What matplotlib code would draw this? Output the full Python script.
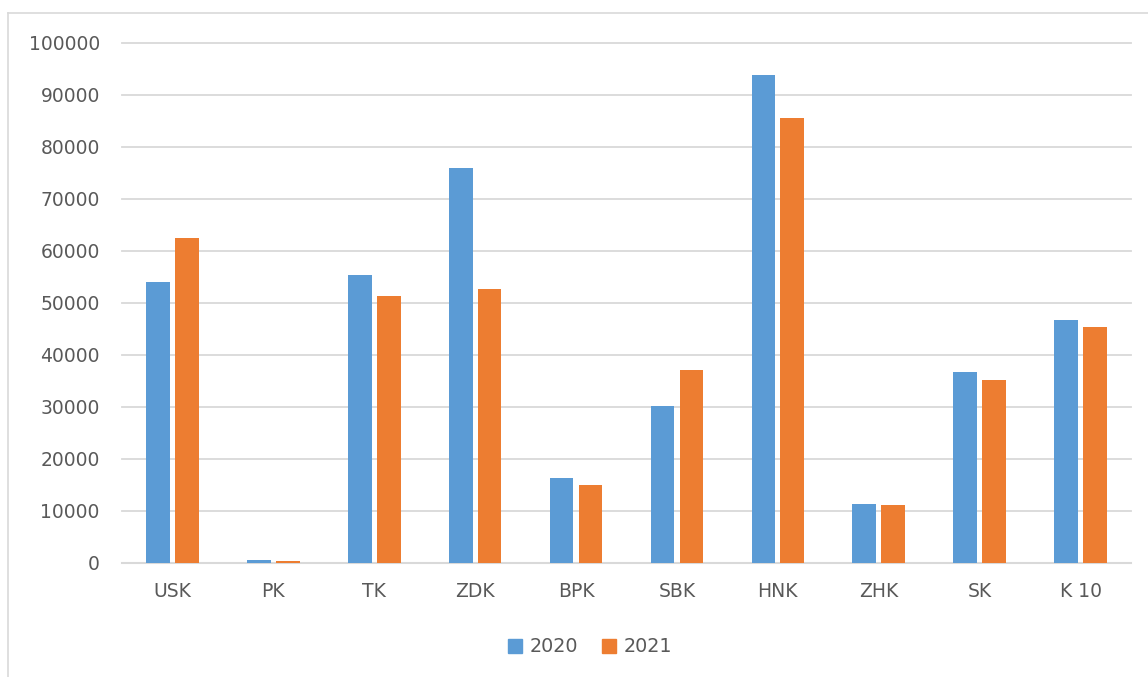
import numpy as np
import matplotlib.pyplot as plt
from matplotlib.lines import Line2D
from matplotlib.patches import Patch

categories = ['USK', 'PK', 'TK', 'ZDK', 'BPK', 'SBK', 'HNK', 'ZHK', 'SK', 'K 10']
values_2020 = [54000, 600, 55400, 76000, 16400, 30200, 93900, 11300, 36700, 46700]
values_2021 = [62500, 400, 51300, 52600, 15000, 37100, 85500, 11100, 35200, 45300]
series_labels = ['2020', '2021']

blue = '#5b9bd5'
orange = '#ed7d31'
grid_col = '#d9d9d9'
text_col = '#595959'

fig = plt.figure(figsize=(11.48, 6.77), dpi=100)
ax = fig.add_axes([122 / 1148, 1 - 563 / 677, (1131 - 122) / 1148, (563 - 43) / 677])

x = np.arange(len(categories))
w = 0.235
ax.bar(x - 0.143, values_2020, w, color=blue, zorder=3)
ax.bar(x + 0.143, values_2021, w, color=orange, zorder=3)

ax.set_xlim(-0.5, len(categories) - 0.5)
ax.set_ylim(0, 100000)
ax.set_yticks(np.arange(0, 100001, 10000))
ax.set_xticks(x)
ax.set_xticklabels(categories)
ax.yaxis.grid(True, color=grid_col, lw=1.3, zorder=0)
for gl in ax.get_ygridlines():
    gl.set_clip_on(False)
ax.tick_params(axis='both', length=0, labelsize=13.5, labelcolor=text_col)
ax.tick_params(axis='y', pad=16)
ax.tick_params(axis='x', pad=14)
for s in ['top', 'right', 'left']:
    ax.spines[s].set_visible(False)
ax.spines['bottom'].set_color(grid_col)
ax.spines['bottom'].set_linewidth(1.5)

# chart frame (only left and top edges are visible in the crop)
fig.add_artist(Line2D([8 / 1148, 8 / 1148], [0, 1 - 13 / 677], transform=fig.transFigure,
                      color=grid_col, lw=1.2))
fig.add_artist(Line2D([8 / 1148, 1], [1 - 13 / 677, 1 - 13 / 677], transform=fig.transFigure,
                      color=grid_col, lw=1.2))

handles = [Patch(color=blue), Patch(color=orange)]
fig.legend(handles, series_labels, loc='center', bbox_to_anchor=(590 / 1148, 1 - 647 / 677),
           ncol=2, frameon=False, fontsize=13.8, labelcolor=text_col,
           handlelength=0.75, handleheight=0.75, handletextpad=0.4, columnspacing=1.2)

fig.savefig('out.png', dpi=100)
